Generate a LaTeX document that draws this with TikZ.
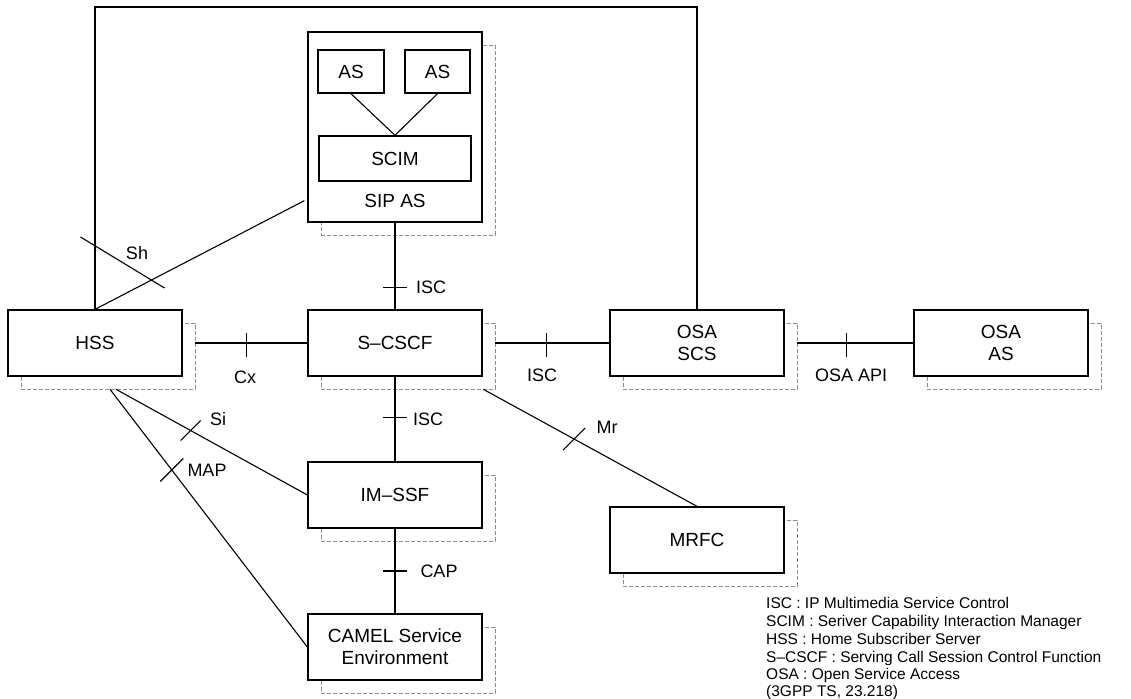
\documentclass[tikz,border=0pt]{standalone}
\usepackage{fontspec}
\setmainfont{Liberation Sans}
\usetikzlibrary{calc}
\begin{document}
\begin{tikzpicture}[x=1pt,y=-1pt,
  box/.style={draw, line width=1.3pt, fill=white, minimum width=174pt, minimum height=66pt,
    inner sep=0pt, align=center, font=\fontsize{19}{22}\selectfont},
  shade/.style={draw=black!45, line width=0.6pt, dash pattern=on 4pt off 2pt,
    minimum width=174pt, minimum height=66pt, inner sep=0pt},
  link/.style={line width=1.1pt},
  lab/.style={font=\fontsize{18}{20}\selectfont, inner sep=0pt},
  legend/.style={font=\fontsize{15.5}{17.6}\selectfont, inner sep=0pt, anchor=base west},
]
\useasboundingbox (0,0) rectangle (1131,698);

% dashed drop shadows, offset down and right
\node[shade, minimum height=190pt] (sipass) at (408,140) {};
\node[shade] (hsss)    at (108,356) {};
\node[shade] (scscfs)  at (408,356) {};
\node[shade] (osascss) at (710,356) {};
\node[shade] (osaass)  at (1014,356) {};
\node[shade] (imssfs)  at (408,508) {};
\node[shade] (mrfcs)   at (710,553) {};
\node[shade] (camels)  at (408,660) {};

% SIP application server with its inner blocks
\node[box, minimum height=190pt] (sipas) at (395,127) {};
\node[box, minimum width=66pt, minimum height=43pt] (as1) at (351,71.5) {AS};
\node[box, minimum width=65pt, minimum height=43pt] (as2) at (437.5,71.5) {AS};
\node[box, minimum width=152pt, minimum height=45pt] (scim) at (395,158.5) {SCIM};
\node[font=\fontsize{19}{22}\selectfont, inner sep=0pt] (siplab) at (395,201) {SIP AS};
\draw[link] (as1.south) -- (scim.north);
\draw[link] (as2.south) -- (scim.north);

% network elements
\node[box] (hss)    at (95,343)   {HSS};
\node[box] (scscf)  at (395,343)  {S–CSCF};
\node[box] (osascs) at (697,343)  {OSA\\SCS};
\node[box] (osaas)  at (1001,343) {OSA\\AS};
\node[box] (imssf)  at (395,495)  {IM–SSF};
\node[box] (mrfc)   at (697,540)  {MRFC};
\node[box] (camel)  at (395,647)  {CAMEL Service\\Environment};

% long loop over the top: HSS to OSA SCS
\coordinate (topy) at (0,7);
\draw[link] (hss.north) -- (hss.north |- topy) -- (osascs.north |- topy) -- (osascs.north);

% Sh
\coordinate (shend) at ($(sipas.south west)+(-3,-22)$);
\draw[link] (hss.north) -- coordinate[pos=0.27] (shx) (shend);
\draw[link] ($(shx)+(-71,-43)$) -- ($(shx)+(13,8)$);
\node[lab] (shl) at (137,253) {Sh};

% Cx
\draw[link] (hsss.east |- hss.east) -- coordinate[pos=0.46] (cxx) (scscf.west);
\draw[link] ($(cxx)+(0,-10)$) -- ($(cxx)+(0,14)$);
\node[lab] (cxl) at (245,377) {Cx};

% ISC towards OSA SCS
\draw[link] (scscfs.east |- scscf.east) -- coordinate[pos=0.452] (isc2x) (osascs.west);
\draw[link] ($(isc2x)+(0,-10)$) -- ($(isc2x)+(0,14)$);
\node[lab] (isc2l) at (542,375) {ISC};

% OSA API
\draw[link] (osascss.east |- osascs.east) -- coordinate[pos=0.427] (apix) (osaas.west);
\draw[link] ($(apix)+(0,-10)$) -- ($(apix)+(0,14)$);
\node[lab] (apil) at (851,375) {OSA API};

% ISC from SIP AS
\draw[link] (sipas.south) -- coordinate[pos=0.75] (isc1x) (scscf.north);
\draw[link] ($(isc1x)+(-12,0)$) -- ($(isc1x)+(12,0)$);
\node[lab] (isc1l) at (431,287) {ISC};

% ISC towards IM-SSF
\draw[link] (scscf.south) -- coordinate[pos=0.477] (isc3x) (imssf.north);
\draw[link] ($(isc3x)+(-12,0)$) -- ($(isc3x)+(12,0)$);
\node[lab] (isc3l) at (428,419) {ISC};

% CAP
\draw[link] (imssf.south) -- coordinate[pos=0.5] (capx) (camel.north);
\draw[link] ($(capx)+(-12,0)$) -- ($(capx)+(12,0)$);
\node[lab] (capl) at (439,571) {CAP};

% Si
\coordinate (sistart) at ($(hsss.south)+(8,0)$);
\draw[link] (sistart) -- coordinate[pos=0.39] (six) (imssf.west);
\draw[link] ($(six)+(-10,10)$) -- ($(six)+(10,-10)$);
\node[lab] (sil) at (218,419) {Si};

% MAP
\coordinate (mapstart) at ($(hsss.south)+(2,0)$);
\draw[link] (mapstart) -- coordinate[pos=0.313] (mapx) (camel.west);
\draw[link] ($(mapx)+(-11.5,11.5)$) -- ($(mapx)+(11.5,-11.5)$);
\node[lab] (mapl) at (207,470) {MAP};

% Mr
\coordinate (mrstart) at ($(scscfs.south east)+(-12,0)$);
\draw[link] (mrstart) -- coordinate[pos=0.425] (mrx) (mrfc.north);
\draw[link] ($(mrx)+(-11,11)$) -- ($(mrx)+(11,-11)$);
\node[lab] (mrl) at (607,427) {Mr};

% abbreviations
\node[legend] (leg1) at (766,608) {ISC : IP Multimedia Service Control};
\node[legend] (leg2) at (766,626) {SCIM : Seriver Capability Interaction Manager};
\node[legend] (leg3) at (766,644) {HSS : Home Subscriber Server};
\node[legend] (leg4) at (766,662) {S–CSCF : Serving Call Session Control Function};
\node[legend] (leg5) at (766,679.5) {OSA : Open Service Access};
\node[legend] (leg6) at (766,696) {(3GPP TS, 23.218)};
\end{tikzpicture}
\end{document}
